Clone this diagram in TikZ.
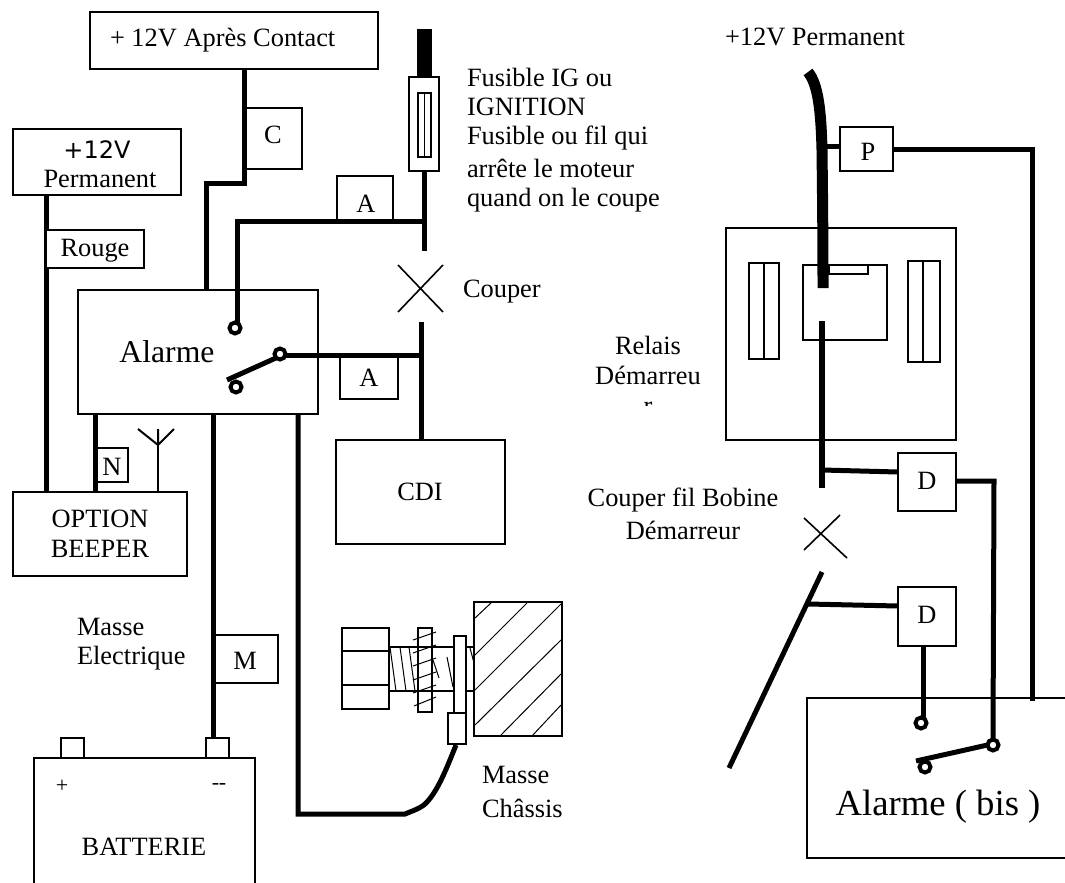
\documentclass[tikz,border=0pt]{standalone}
\usepackage{fontspec}
\setmainfont{Liberation Serif}
\newfontfamily\sansf{DejaVu Sans}
\newcommand{\bx}[6][]{\node[box,#1,minimum width={(#5-#3)*1pt},minimum height={(#6-#4)*1pt}] (#2) at ({(#3+#5)/2},{(#4+#6)/2}) {};}
\begin{document}
\begin{tikzpicture}[x=1pt,y=-1pt,
 every node/.style={inner sep=0pt,outer sep=0pt},
 box/.style={draw,line width=1.6pt,fill=white},
 wire/.style={line width=5pt,line join=miter},
 fine/.style={line width=1pt},
 medium/.style={line width=1.6pt},
 txt/.style={font=\fontsize{26.4}{30}\selectfont,align=center},
 ltxt/.style={font=\fontsize{26.4}{30}\selectfont,align=left,anchor=west},
 ring/.style={circle,draw,line width=4pt,fill=white,minimum size=11pt}
]
\useasboundingbox (0,0) rectangle (1065,883);
% --- left wiring
\coordinate (c1) at (244,69); \coordinate (c2) at (244,183); \coordinate (c3) at (206,183); \coordinate (c4) at (206,299);
\draw[wire] (c1)--(c2)--(c3)--(c4);
\coordinate (ign1) at (424,171); \coordinate (ign2) at (424,251); \coordinate (ignj) at (424,221);
\draw[wire] (ign1)--(ign2);
\coordinate (cdi1) at (421,322); \coordinate (cdi2) at (421,440); \coordinate (cdij) at (421,355);
\draw[wire] (cdi1)--(cdi2);
\draw[wire] (46,195)--(46,492);
\draw[line width=15pt] (424.5,29)--(424.5,78);
% boxes
\bx{apc}{90}{12}{378}{69}
\node[txt,anchor=west] (apct) at (110,40) {+ 12V Après Contact};
\bx{perm}{13}{129}{181}{195}
\node[font=\sansf\fontsize{24}{24}\selectfont] (permt) at (97,150) {+12V};
\node[txt] (permb) at (100,179) {Permanent};
\bx{C}{246}{108}{302}{169}
\node[txt] at (273,135) {C};
\bx{rouge}{46}{230}{144}{268}
\node[txt] at (95,251) {Rouge};
\bx{alarme}{78}{290}{318}{414}
\node[font=\fontsize{31.7}{32}\selectfont] (alarmet) at (167,352) {Alarme};
\bx{A1}{337}{176}{393}{221}
\node[txt] at (366,204) {A};
\bx{A2}{340}{354}{398}{399}
\node[txt] at (369,378) {A};
\bx{cdi}{336}{440}{505}{544}
\node[txt] at (420,492) {CDI};
\bx{beep}{13}{492}{187}{576}
\node[txt] at (100,534) {OPTION\\BEEPER};
\bx{N}{97}{448}{128}{482}
\node[txt] at (112,467) {N};
\bx{M}{215}{635}{278}{683}
\node[txt] at (245,661) {M};
% fuse
\bx{fuse}{409}{77}{439}{171}
\bx{fusein}{418}{93}{431}{157}
\draw[medium] (fusein.north)--(fusein.south);
% alarm switch wires
\node[ring] (r1) at (235,328) {};
\node[ring] (r2) at (236,387) {};
\node[ring] (r3) at (280,354) {};
\draw[wire] (r1.north -| 237,0) -- (237,221) -- (ignj);
\draw[wire] (r3.east |- 0,355) -- (cdij);
\draw[wire] (227,380) -- (r3.south west);
% lower left
\draw[wire] (95,414)--(95,492);
\draw[wire] (213,414)--(213,738);
\draw[wire] (298,414)--(298,814)--(405,814) .. controls (412,811) and (422,808) .. (427,802) .. controls (438,790) and (446,770) .. (456,745);
\draw[line width=2pt] (158,492)--(158,445);
\draw[line width=2pt] (138,429)--(158,445) (158,429)--(158,445) (174,429)--(158,445);
% cross left
\draw[medium] (398,265)--(443,312) (443,265)--(398,312);
\node[ltxt] (couper) at (463,292) {Couper};
\node[ltxt] (fus) at (467,77) {Fusible IG ou};
\node[ltxt] at (467,107) {IGNITION};
\node[ltxt] at (467,138) {Fusible ou fil qui};
\node[ltxt] at (467,168) {arrête le moteur};
\node[ltxt] at (467,200) {quand on le coupe};
\node[ltxt] at (77,627) {Masse};
\node[ltxt] at (77,658) {Electrique};
\node[ltxt] at (482,775) {Masse};
\node[ltxt] at (482,808) {Châssis};
% battery
\draw[medium] (34,883)--(34,758)--(255,758)--(255,883);
\bx{b1}{61}{738}{84}{758}
\bx{b2}{206}{738}{229}{758}
\node[font=\fontsize{22}{22}\selectfont] at (62,786) {+};
\node[font=\fontsize{22}{22}\selectfont] at (219,786) {-\kern-0.5pt-};
\node[txt] at (144,847) {BATTERIE};
% bolt
\draw[medium] (389,647)--(475,647) (389,691)--(475,691);
\draw[fine] (390,647)--(396,691) (400,647)--(406,691) (409,647)--(415,691) (433,660)--(439,678) (447,657)--(453,687) (470,648)--(474,663);
\bx{hex}{342}{628}{389}{709}
\draw[medium] (hex.west |- 0,651)--(hex.east |- 0,651) (hex.west |- 0,685)--(hex.east |- 0,685);
\bx[fill=none]{wash}{418}{628}{432}{712}
\draw[fine] (413,640)--(436,632) (413,653)--(436,645) (413,666)--(436,658) (413,680)--(436,672) (413,693)--(436,685) (414,706)--(436,697);
\bx{plate}{454}{636}{466}{713}
\bx{lug}{448}{713}{466}{744}
\bx{block}{474}{602}{562}{736}
\draw[fine] (475,618)--(492,602) (475,655)--(527,603) (475,690)--(561,604) (475,725)--(561,640) (500,736)--(561,674) (532,736)--(561,705);
% right
\bx{relais}{726}{228}{956}{440}
\bx{rl}{749}{263}{779}{359}
\draw[medium] (rl.north)--(rl.south);
\bx{rr}{908}{261}{940}{362}
\draw[medium] (923,261)--(923,362);
\bx{rc}{803}{265}{887}{340}
\draw[medium] (829,265)--(829,274)--(868,274)--(868,265);
\draw[line width=11pt] (808,72) .. controls (818,84) and (821,110) .. (822,150) .. controls (822.5,190) and (823,240) .. (823,288);
\draw[wire,line width=5.5pt] (822,321)--(822,488);
\bx{P}{840}{127}{893}{171}
\node[txt] at (868,152) {P};
\bx{D1}{898}{453}{956}{511}
\node[txt] at (927,481) {D};
\bx{D2}{898}{587}{956}{646}
\node[txt] at (927,615) {D};
\draw[wire] (827,146)--(P.west |- 0,146);
\draw[wire] (P.east |- 0,149)--(1032,149)--(1032,701);
\draw[wire] (822,470)--(D1.west |- 0,472);
\draw[medium] (1065,698)--(807,698)--(807,858)--(1065,858);
\node[ring] (r4) at (921,723) {};
\node[ring] (r5) at (993,745) {};
\node[ring] (r6) at (925,767) {};
\draw[wire] (D1.east |- 0,481)--(994,481)--(r5.north);
\draw[wire] (923,646)--(923,717);
\draw[wire] (916,761)--(r5.west);
\draw[wire] (822,572)--(729,768);
\coordinate (dj) at (808,604);
\draw[wire] (dj)--(D2.west |- 0,606);
\draw[medium] (804,518)--(847,558) (840,515)--(804,550);
\node[font=\fontsize{36.7}{40}\selectfont] (bis) at (938,807) {Alarme ( bis )};
\node[ltxt] at (725,37) {+12V Permanent};
\node[txt] at (648,345) {Relais};
\node[txt] at (648,375) {Démarreu};
\begin{scope}
\clip (630,400) rectangle (670,405.5);
\node[txt,anchor=base] at (648,414) {r};
\end{scope}
\node[txt] at (683,500) {Couper fil Bobine};
\node[txt] at (683,530) {Démarreur};
\end{tikzpicture}
\end{document}
